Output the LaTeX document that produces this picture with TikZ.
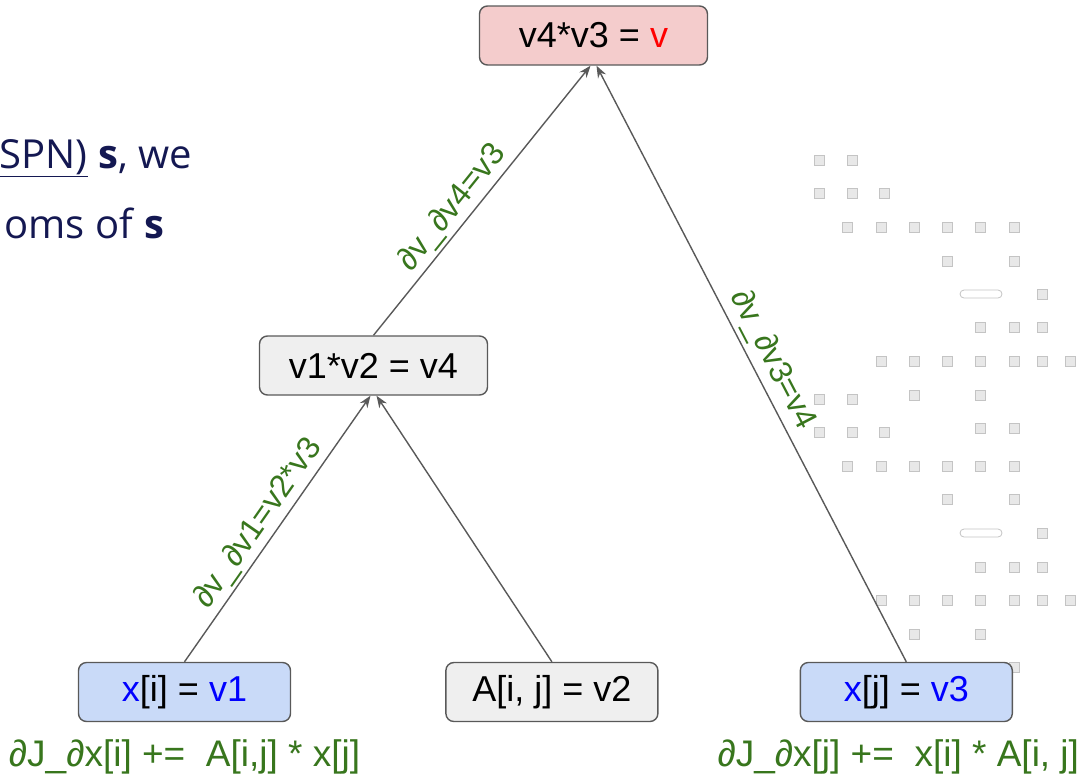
\documentclass[tikz,border=0pt]{standalone}
\usepackage{fontspec}
\setmainfont{Liberation Sans}
\newfontfamily\slidefont{Open Sans}
\usetikzlibrary{arrows.meta, positioning}

\definecolor{edgegray}{HTML}{595959}
\definecolor{pinkfill}{HTML}{F4CCCC}
\definecolor{grayfill}{HTML}{EFEFEF}
\definecolor{bluefill}{HTML}{C9DAF8}
\definecolor{gradgreen}{HTML}{38761D}
\definecolor{slidenavy}{HTML}{141852}
\definecolor{dotfill}{HTML}{E8E8E8}
\definecolor{dotline}{HTML}{C4C4C4}

\begin{document}
\begin{tikzpicture}[
    x=1pt, y=-1pt,
    font=\fontsize{36}{42}\selectfont,
    box/.style={
        draw=edgegray, line width=1.4pt, rounded corners=8pt,
        minimum width=212pt, minimum height=59pt, inner sep=0pt
    },
    lbl/.style={text=gradgreen, font=\fontsize{32}{38}\selectfont, inner sep=3pt},
    grad/.style={text=gradgreen, font=\fontsize{37}{44}\selectfont, inner sep=0pt},
    arrow/.style={-{Stealth[length=12pt, width=9pt]}, line width=1.4pt, draw=edgegray},
    slide/.style={text=slidenavy, font=\slidefont\fontsize{40}{48}\selectfont, inner sep=0pt},
    dot/.style={fill=dotfill, draw=dotline, line width=0.8pt}
]
\useasboundingbox (0,0) rectangle (1081,777);

% -- leftover slide text --
\node[slide, anchor=base east] (line1) at (192,168) {\underline{SPN)} \textbf{s}, we};
\node[slide, anchor=base east] (line2) at (165,238) {oms of \textbf{s}};

% -- faint squares behind the right edge --
\foreach \x/\y in {819/160, 852/160,
    819/193, 852/193, 884/193,
    847/227, 881/227, 914/227, 947/227, 980/227, 1014/227,
    947/261, 1014/261, 1042/294,
    980/327, 1014/327, 1042/327,
    881/361, 914/361, 947/361, 980/361, 1014/361, 1042/361, 1070/361,
    819/399, 852/399, 914/395, 980/395,
    819/432, 852/432, 884/432, 980/428, 1014/428,
    847/466, 881/466, 914/466, 947/466, 980/466, 1014/466,
    947/499, 1014/499, 1042/533,
    980/567, 1014/567, 1042/567,
    881/600, 914/600, 947/600, 980/600, 1014/600, 1042/600, 1070/600,
    914/634, 980/634, 1014/667}
    \draw[dot] (\x-5,\y-5) rectangle (\x+5,\y+5);
\foreach \y in {294, 533}
    \draw[dot, fill=white, rounded corners=4pt] (960,\y-4) rectangle (1002,\y+4);

% -- graph nodes --
\node[box, fill=pinkfill, minimum width=228pt] (top) at (593.5,35.5) {v4*v3 = \textcolor{red}{v}};
\node[box, fill=grayfill, minimum width=228pt] (mid) at (373.5,365.5) {v1*v2 = v4};
\node[box, fill=bluefill] (xi) at (184.5,692) {\textcolor{blue}{x}[i] = \textcolor{blue}{v1}};
\node[box, fill=grayfill, right=154pt of xi] (aij) {A[i, j] = v2};
\node[box, fill=bluefill, right=141pt of aij] (xj) {\textcolor{blue}{x}[j] = \textcolor{blue}{v3}};

% -- accumulated gradients --
\node[grad, below=17pt of xi] (dxi) {∂J\_∂x[i] +=~~A[i,j] * x[j]};
\node[grad, below=17pt of xj, xshift=-8pt] (dxj) {∂J\_∂x[j] +=~~x[i] * A[i, j]};

% -- edges with local derivatives --
\draw[arrow] (xi.north) -- node[lbl, sloped, above, pos=0.48] {∂v\_∂v1=v2*v3} ([xshift=-3pt]mid.south);
\draw[arrow] (aij.north) -- ([xshift=3pt]mid.south);
\draw[arrow] (mid.north) -- node[lbl, sloped, above, pos=0.43] {∂v\_∂v4=v3} ([xshift=-3pt]top.south);
\draw[arrow] (xj.north) -- node[lbl, sloped, above, pos=0.49, inner sep=5pt] {∂v\_∂v3=v4} ([xshift=3pt]top.south);

\end{tikzpicture}
\end{document}
